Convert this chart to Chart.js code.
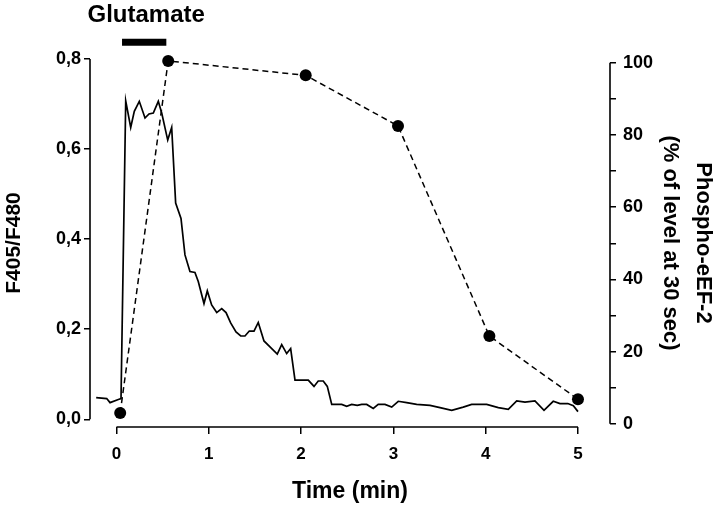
<!DOCTYPE html>
<html>
<head>
<meta charset="utf-8">
<script src="https://cdn.jsdelivr.net/npm/chart.js@4.4.1/dist/chart.umd.min.js"></script>
<style>
  html, body { margin: 0; padding: 0; background: #fff; }
  canvas { display: block; }
</style>
</head>
<body>
<canvas id="chart" width="720" height="505"></canvas>
<script>
// Fura-2 ratio trace (left axis)
const traceTime = [-0.22, -0.106, -0.07, 0.02, 0.049, 0.1, 0.154, 0.193, 0.247, 0.309, 0.352, 0.399, 0.453, 0.49,
    0.555, 0.598, 0.641, 0.699, 0.742, 0.796, 0.85, 0.886, 0.948, 0.984, 1.031, 1.086, 1.14, 1.187, 1.237, 1.295,
    1.346, 1.392, 1.439, 1.49, 1.536, 1.598, 1.663, 1.742, 1.79, 1.844, 1.887, 1.934, 2.078, 2.14, 2.186, 2.24,
    2.284, 2.332, 2.44, 2.494, 2.548, 2.609, 2.657, 2.711, 2.782, 2.836, 2.909, 2.982, 3.053, 3.144, 3.252, 3.397,
    3.505, 3.632, 3.757, 3.848, 4.011, 4.137, 4.245, 4.336, 4.426, 4.534, 4.632, 4.732, 4.805, 4.89, 4.95, 5.0]
const traceRatio = [0.048, 0.046, 0.037, 0.044, 0.046, 0.707, 0.648, 0.684, 0.706, 0.669, 0.678, 0.68, 0.706, 0.68,
    0.62, 0.648, 0.48, 0.446, 0.365, 0.328, 0.326, 0.306, 0.257, 0.285, 0.254, 0.237, 0.246, 0.237, 0.214, 0.194,
    0.185, 0.185, 0.196, 0.196, 0.215, 0.174, 0.161, 0.145, 0.166, 0.146, 0.157, 0.087, 0.087, 0.073, 0.085, 0.085,
    0.073, 0.033, 0.033, 0.029, 0.033, 0.031, 0.033, 0.033, 0.024, 0.033, 0.033, 0.027, 0.04, 0.037, 0.033, 0.031,
    0.026, 0.02, 0.027, 0.033, 0.033, 0.026, 0.022, 0.041, 0.038, 0.041, 0.02, 0.04, 0.035, 0.035, 0.03, 0.017]

// phospho-eEF-2 (right axis)
const phosphoTime = [0.04, 0.56, 2.05, 3.05, 4.04, 5.0]
const phosphoLevel = [3, 100.5, 96.5, 82.5, 24.3, 6.8]

// glutamate application bar
const glutamateTime = [0.06, 0.54]
const glutamateY = 0.837

const timeTicks = [0, 1, 2, 3, 4, 5]
const ratioTicks = [0, 0.2, 0.4, 0.6, 0.8]
const levelTicks = [0, 10, 20, 30, 40, 50, 60, 70, 80, 90, 100]
const levelLabeled = [0, 20, 40, 60, 80, 100]

const FONT = "'Liberation Sans', Arial, Helvetica, sans-serif"

function points(xs, ys) {
    return xs.map((x, i) => ({ x: x, y: Array.isArray(ys) ? ys[i] : ys }))
}

// axis lines only span the labelled range, like the original figure
const axisLines = {
    id: 'axisLines',
    afterDraw(chart) {
        const { ctx, chartArea, scales } = chart
        ctx.save()
        ctx.strokeStyle = '#000'
        ctx.lineWidth = 1.6
        ctx.beginPath()
        ctx.moveTo(chartArea.left, scales.y.getPixelForValue(0))
        ctx.lineTo(chartArea.left, scales.y.getPixelForValue(0.8))
        ctx.moveTo(chartArea.right, scales.y2.getPixelForValue(0))
        ctx.lineTo(chartArea.right, scales.y2.getPixelForValue(100))
        ctx.moveTo(scales.x.getPixelForValue(0), chartArea.bottom)
        ctx.lineTo(scales.x.getPixelForValue(5), chartArea.bottom)
        ctx.stroke()

        // label over the glutamate bar
        const cx = (scales.x.getPixelForValue(glutamateTime[0]) + scales.x.getPixelForValue(glutamateTime[1])) / 2
        ctx.fillStyle = '#000'
        ctx.font = 'bold 24px ' + FONT
        ctx.textAlign = 'center'
        ctx.textBaseline = 'middle'
        ctx.fillText('Glutamate', cx + 2, 15)
        ctx.restore()
    }
}

const tickGrid = {
    drawOnChartArea: false,
    drawTicks: true,
    tickLength: 6,
    color: '#000',
    lineWidth: 1.5
}

const config = {
    type: 'line',
    data: {
        datasets: [
            {
                data: points(traceTime, traceRatio),
                yAxisID: 'y',
                borderColor: '#000',
                borderWidth: 1.7,
                pointRadius: 0,
                tension: 0
            },
            {
                data: points(phosphoTime, phosphoLevel),
                yAxisID: 'y2',
                borderColor: '#000',
                borderWidth: 1.5,
                borderDash: [6, 4],
                pointRadius: 6,
                pointBackgroundColor: '#000',
                pointBorderColor: '#000',
                pointBorderWidth: 0,
                tension: 0,
                clip: false
            },
            {
                data: points(glutamateTime, glutamateY),
                yAxisID: 'y',
                borderColor: '#000',
                borderWidth: 7,
                borderCapStyle: 'butt',
                pointRadius: 0,
                clip: false
            }
        ]
    },
    options: {
        responsive: false,
        animation: false,
        devicePixelRatio: 1,
        layout: { padding: { top: 59, left: 0, right: 0, bottom: 0 } },
        plugins: {
            legend: { display: false },
            tooltip: { enabled: false }
        },
        scales: {
            x: {
                type: 'linear',
                min: -0.287,
                max: 5.347,
                afterBuildTicks: s => { s.ticks = timeTicks.map(v => ({ value: v })) },
                afterFit: s => { s.height = 78 },
                border: { display: false },
                grid: Object.assign({}, tickGrid, { tickLength: 7 }),
                ticks: {
                    color: '#000',
                    padding: 10,
                    font: { family: FONT, size: 17, weight: 'bold' },
                    callback: v => String(v)
                },
                title: {
                    display: true,
                    text: 'Time (min)',
                    color: '#000',
                    padding: 0,
                    font: { family: FONT, size: 23, weight: 'bold' }
                }
            },
            y: {
                position: 'left',
                min: -0.0171,
                max: 0.8,
                afterBuildTicks: s => { s.ticks = ratioTicks.map(v => ({ value: v })) },
                afterFit: s => { s.width = 90 },
                border: { display: false },
                grid: tickGrid,
                ticks: {
                    color: '#000',
                    padding: 3,
                    font: { family: FONT, size: 18, weight: 'bold' },
                    callback: v => v.toFixed(1).replace('.', ',')
                },
                title: {
                    display: true,
                    text: 'F405/F480',
                    color: '#000',
                    padding: { top: 1.5, bottom: 0 },
                    font: { family: FONT, size: 21, weight: 'bold' }
                }
            },
            y2: {
                position: 'right',
                min: -0.89,
                max: 101.03,
                afterBuildTicks: s => { s.ticks = levelTicks.map(v => ({ value: v })) },
                afterFit: s => { s.width = 110 },
                border: { display: false },
                grid: tickGrid,
                ticks: {
                    color: '#000',
                    padding: 7,
                    font: { family: FONT, size: 18, weight: 'bold' },
                    callback: v => levelLabeled.includes(v) ? String(v) : ''
                },
                title: {
                    display: true,
                    text: ['Phospho-eEF-2', '(% of level at 30 sec)'],
                    color: '#000',
                    padding: 0,
                    font: { family: FONT, size: 22, weight: 'bold', lineHeight: 1.5 }
                }
            }
        }
    },
    plugins: [axisLines]
}

const chart = new Chart(document.getElementById('chart').getContext('2d'), config)
</script>
</body>
</html>
